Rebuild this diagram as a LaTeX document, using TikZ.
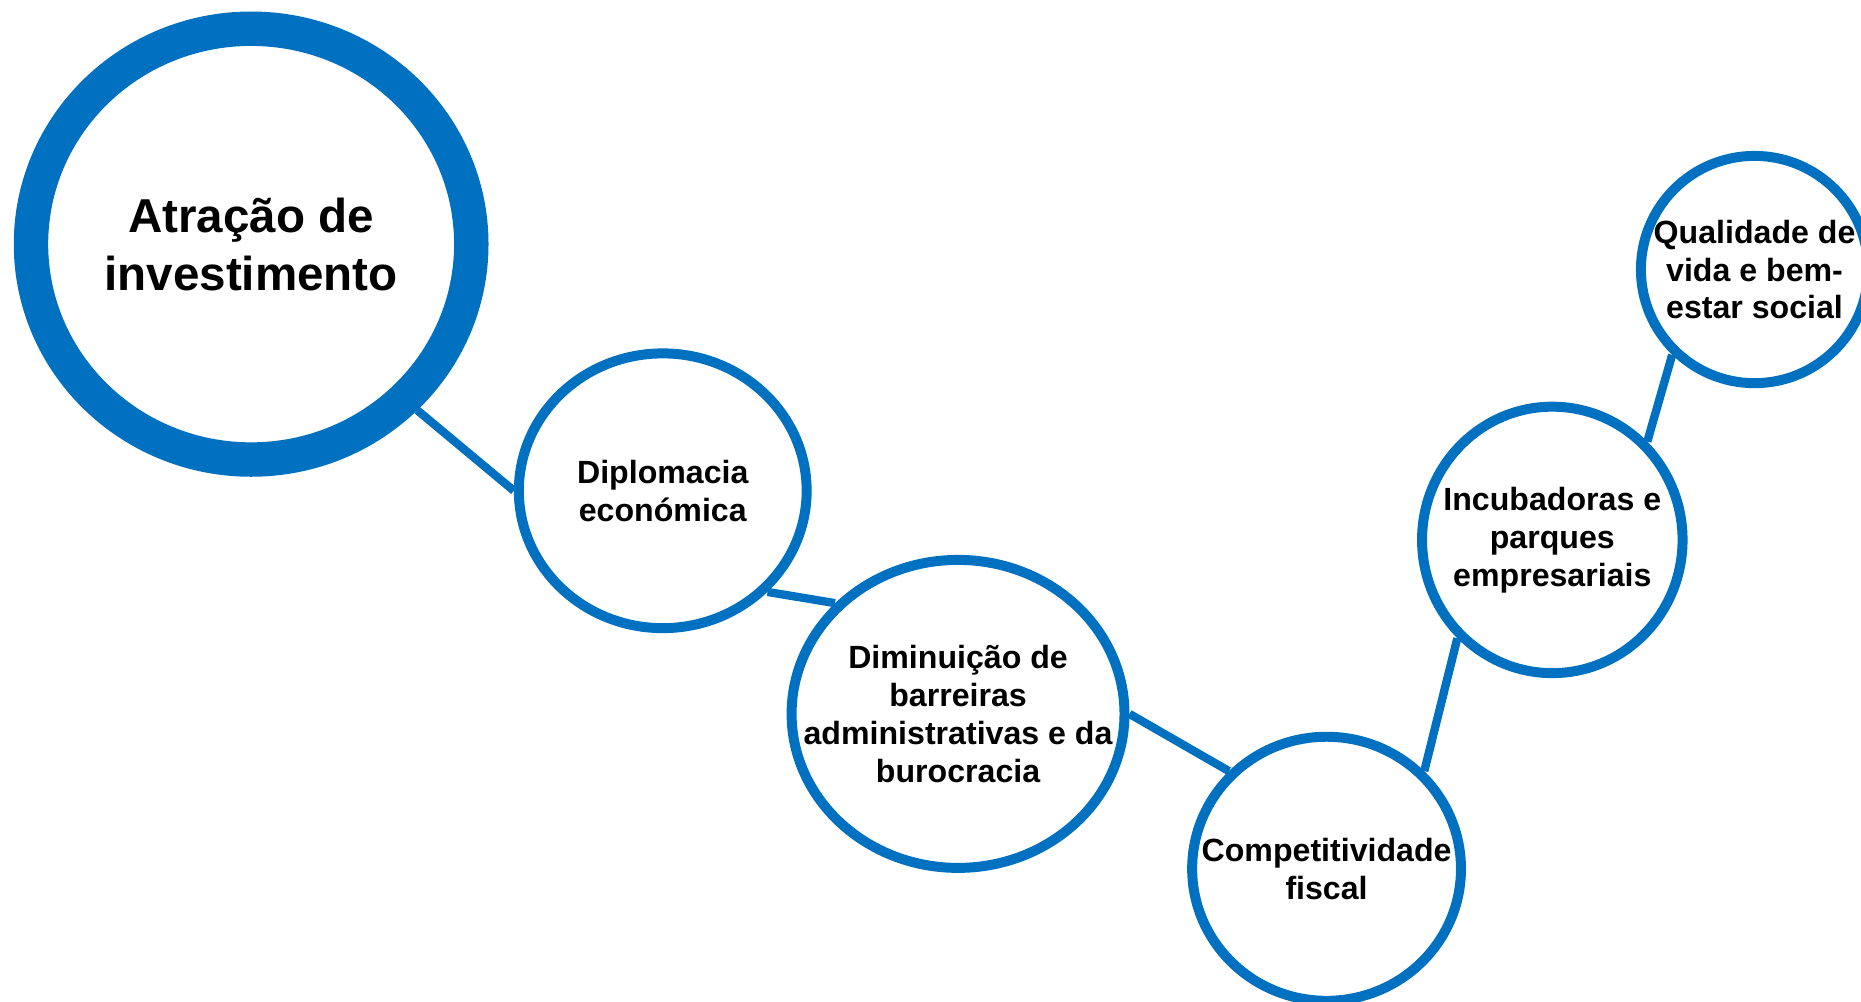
\documentclass[tikz,border=0pt]{standalone}
\usepackage{fontspec}
\setmainfont{Liberation Sans}
\usetikzlibrary{shapes.geometric}
\definecolor{linkblue}{RGB}{0,112,192}
\begin{document}
\begin{tikzpicture}[
    bubble/.style={ellipse, draw=linkblue, line width=0.168cm, fill=white, inner sep=0pt},
    txt/.style={align=center, inner sep=0pt, font=\bfseries\fontsize{15.4}{18.2}\selectfont},
    bigtxt/.style={txt, font=\bfseries\fontsize{22.8}{27.8}\selectfont},
    link/.style={draw=linkblue, line width=0.14cm}]
  \useasboundingbox (0,0) rectangle (31.36,16.88);
  \begin{scope}
    \node[bubble, line width=0.58cm, minimum width=7.42cm, minimum height=7.26cm,
      label={[bigtxt]center:Atração de\\investimento}] (invest) at (4.232,12.766) {};
    \node[bubble, minimum width=4.85cm, minimum height=4.63cm,
      label={[txt]center:Diplomacia\\económica}] (diplo) at (11.168,8.61) {};
    \node[bubble, minimum width=5.61cm, minimum height=5.19cm,
      label={[txt]center:Diminuição de\\barreiras\\administrativas e da\\burocracia}] (burocr) at (16.144,4.85) {};
    \node[bubble, minimum width=4.53cm, minimum height=4.45cm,
      label={[txt]center:Competitividade\\fiscal}] (fiscal) at (22.354,2.24) {};
    \node[bubble, minimum width=4.39cm, minimum height=4.49cm,
      label={[txt]center:Incubadoras e\\parques\\empresariais}] (incub) at (26.158,7.782) {};
    \node[bubble, minimum width=3.83cm, minimum height=3.83cm,
      label={[txt]center:Qualidade de\\vida e bem-\\estar social}] (quali) at (29.566,12.338) {};
  \end{scope}
  \draw[link] (invest.-45) -- (diplo.west);
  \draw[link] (diplo.-44) -- (burocr.138);
  \draw[link] (burocr.east) -- (fiscal.135);
  \draw[link] (fiscal.45) -- (incub.226);
  \draw[link] (incub.46) -- (quali.226);
\end{tikzpicture}
\end{document}
